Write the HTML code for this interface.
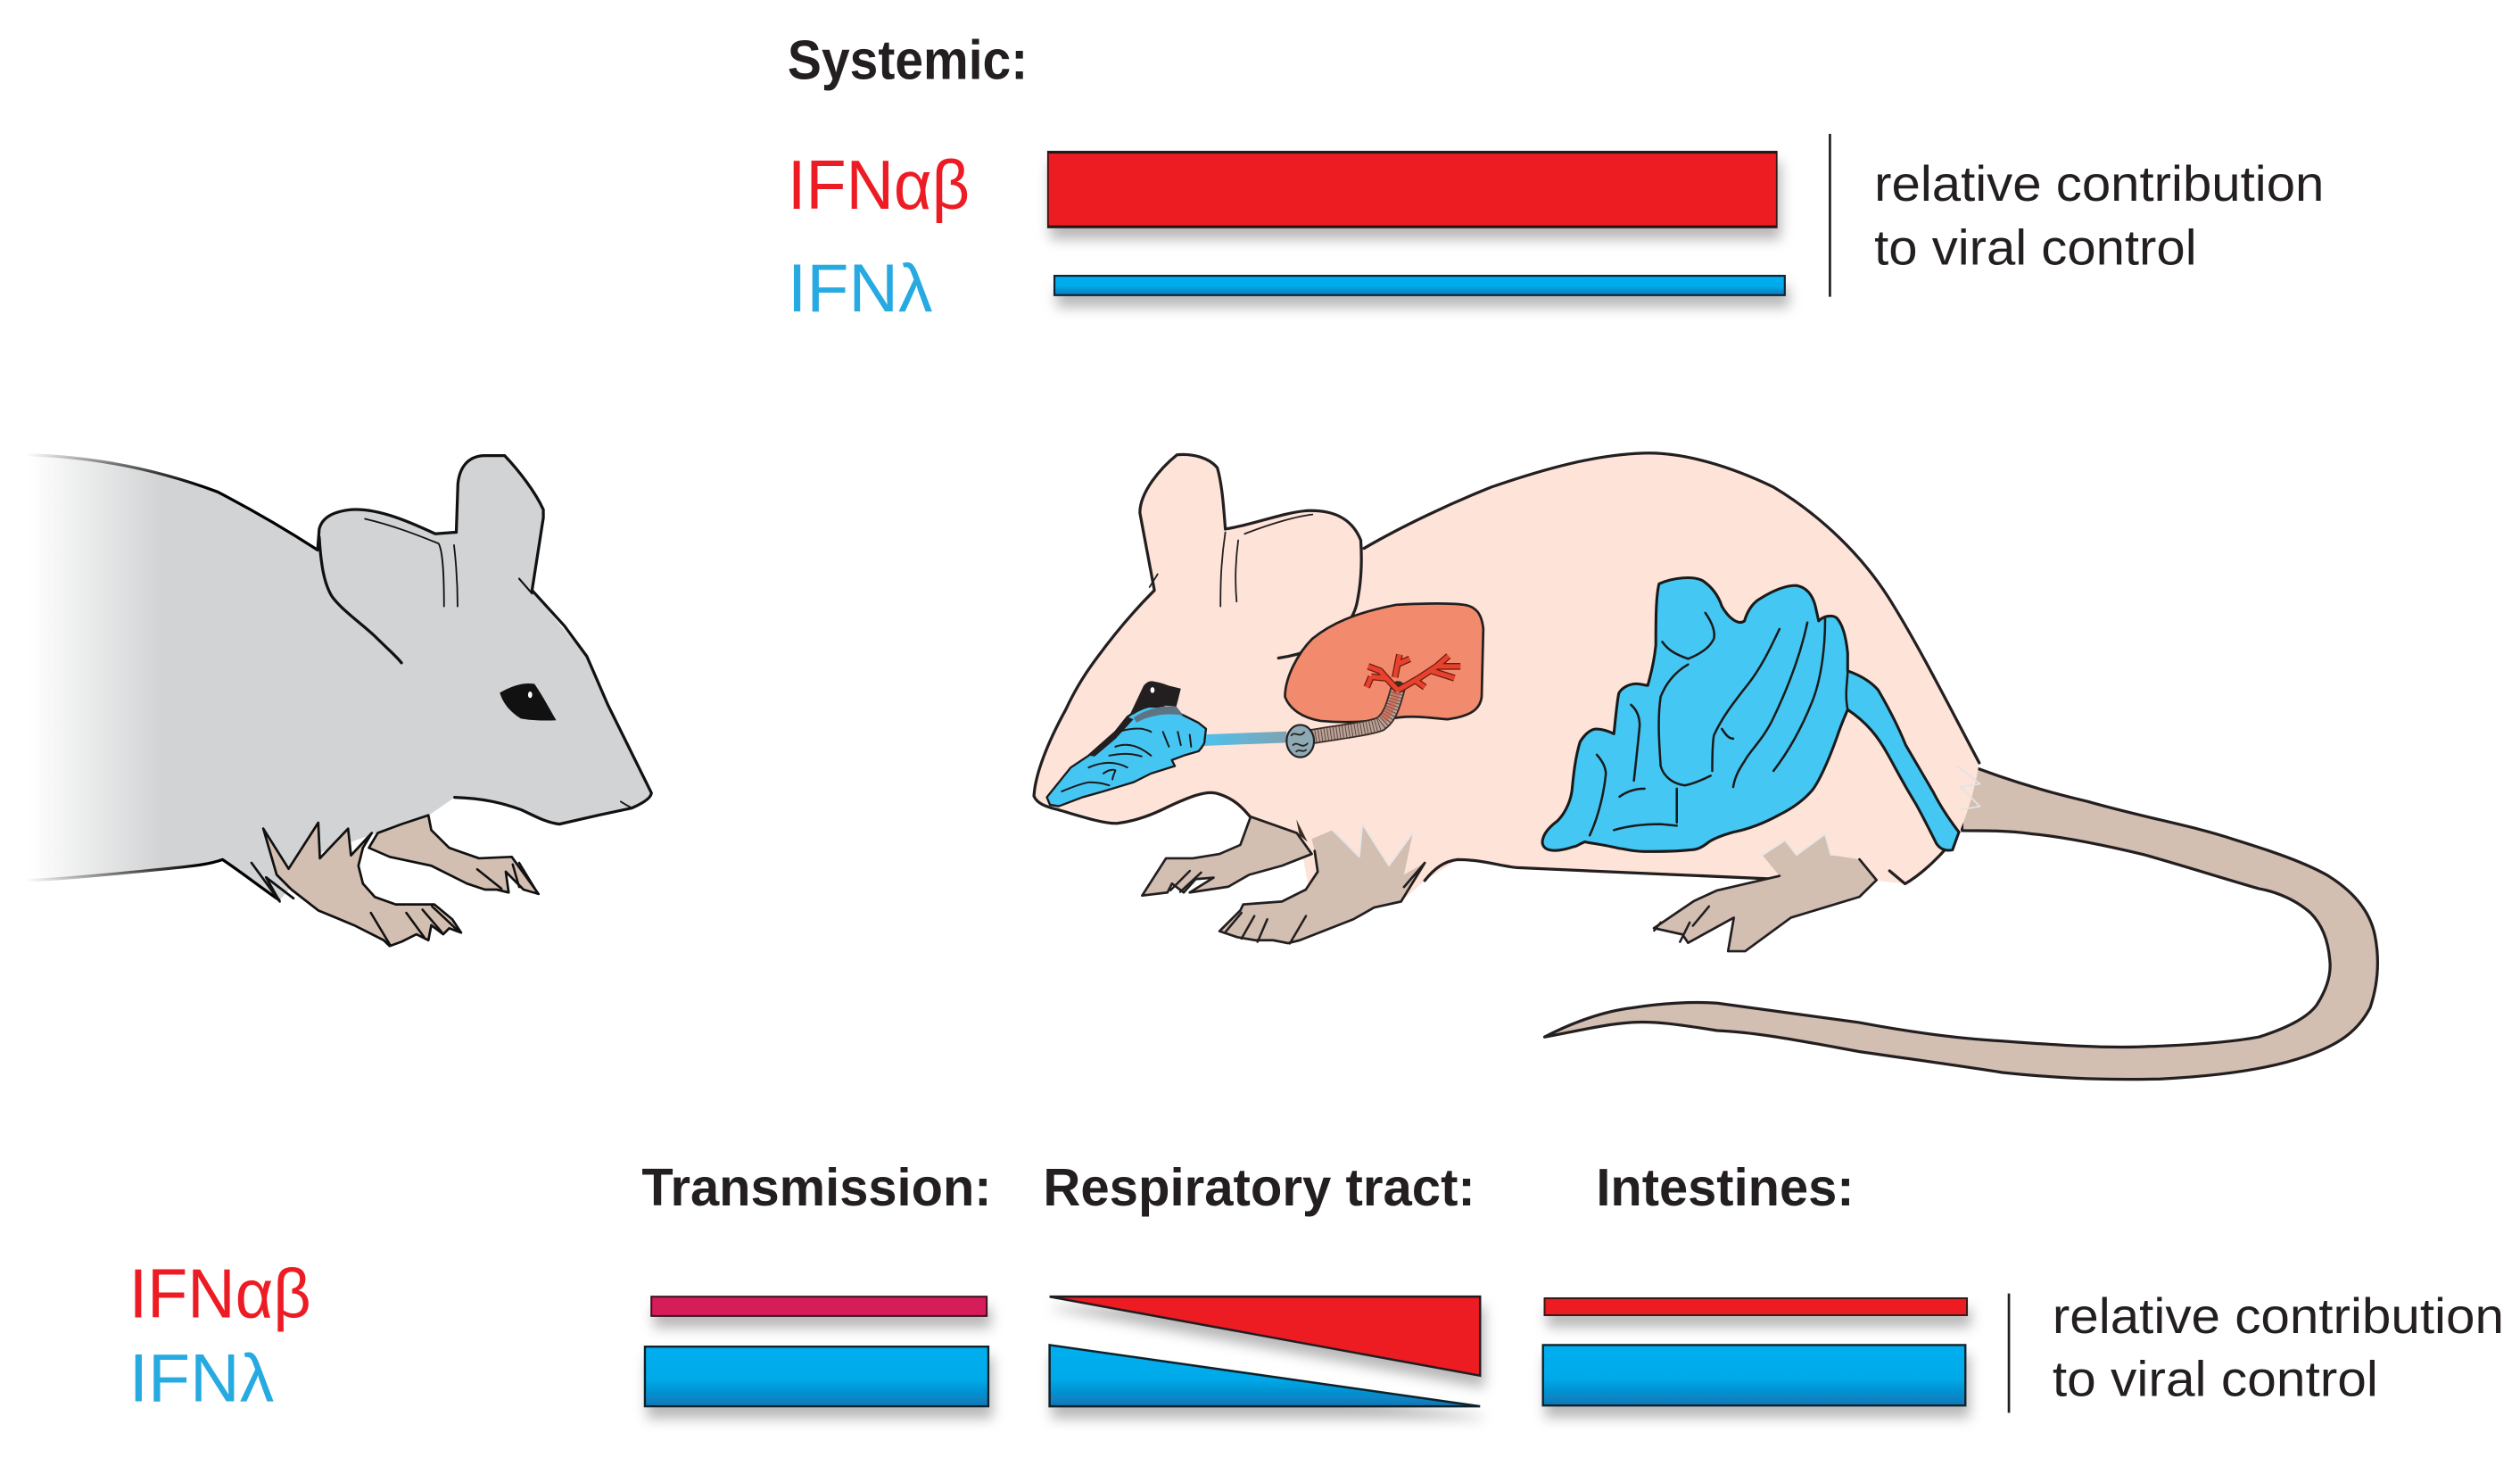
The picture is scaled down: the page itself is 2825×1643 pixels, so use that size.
<!DOCTYPE html>
<html><head><meta charset="utf-8"><style>
html,body{margin:0;padding:0;background:#fff;}
svg{display:block;}
text{font-family:"Liberation Sans",Arial,sans-serif;}
</style></head><body>
<svg width="2825" height="1643" viewBox="0 0 1563 909" xmlns="http://www.w3.org/2000/svg">
<defs>
 <filter id="sh" x="-5%" y="-100%" width="115%" height="420%">
  <feGaussianBlur in="SourceAlpha" stdDeviation="4"/>
  <feOffset dx="2" dy="7" result="b"/>
  <feFlood flood-color="#000" flood-opacity="0.28"/>
  <feComposite in2="b" operator="in"/>
  <feMerge><feMergeNode/><feMergeNode in="SourceGraphic"/></feMerge>
 </filter>
 <linearGradient id="bl" x1="0" y1="0" x2="0" y2="1">
  <stop offset="0" stop-color="#00aeef"/><stop offset="0.55" stop-color="#00aae9"/><stop offset="1" stop-color="#0b76b6"/>
 </linearGradient>
 <linearGradient id="gfill" gradientUnits="userSpaceOnUse" x1="18" y1="0" x2="100" y2="0">
  <stop offset="0" stop-color="#d1d3d4" stop-opacity="0"/><stop offset="1" stop-color="#d1d3d4"/>
 </linearGradient>
 <linearGradient id="gstroke" gradientUnits="userSpaceOnUse" x1="16" y1="0" x2="125" y2="0">
  <stop offset="0" stop-color="#000" stop-opacity="0"/><stop offset="1" stop-color="#000"/>
 </linearGradient>
 <linearGradient id="tube" x1="0" y1="0" x2="1" y2="0">
  <stop offset="0" stop-color="#4cc2ee"/><stop offset="1" stop-color="#7fa3b3"/>
 </linearGradient>
</defs>

<!-- ===== TOP ===== -->
<text x="488.5" y="49" font-size="34.5" font-weight="bold" fill="#231f20" textLength="149" lengthAdjust="spacingAndGlyphs">Systemic:</text>
<text x="488.5" y="129.5" font-size="43" fill="#ed1c24" textLength="113" lengthAdjust="spacingAndGlyphs">IFNαβ</text>
<text x="488.5" y="193" font-size="42" fill="#27aae1" textLength="90" lengthAdjust="spacingAndGlyphs">IFNλ</text>

<g filter="url(#sh)">
 <rect x="650" y="94" width="452" height="47" fill="#ed1c24" stroke="#3b1416" stroke-width="1"/>
</g>
<line x1="650" y1="94.5" x2="1102" y2="94.5" stroke="#2a1315" stroke-width="1.5"/>
<line x1="650" y1="140.5" x2="1102" y2="140.5" stroke="#2a1315" stroke-width="1.5"/>
<g filter="url(#sh)">
 <rect x="654" y="171" width="453" height="12" fill="url(#bl)" stroke="#0d2233" stroke-width="1.2"/>
</g>
<line x1="1135" y1="83" x2="1135" y2="184" stroke="#231f20" stroke-width="1.5"/>
<text x="1162.5" y="124.5" font-size="31" fill="#231f20" textLength="279" lengthAdjust="spacingAndGlyphs">relative contribution</text>
<text x="1162.5" y="164" font-size="31" fill="#231f20" textLength="200" lengthAdjust="spacingAndGlyphs">to viral control</text>

<!-- ===== BOTTOM ===== -->
<text x="398" y="747.5" font-size="33" font-weight="bold" fill="#231f20" textLength="217" lengthAdjust="spacingAndGlyphs">Transmission:</text>
<text x="647" y="747.5" font-size="33" font-weight="bold" fill="#231f20" textLength="268" lengthAdjust="spacingAndGlyphs">Respiratory tract:</text>
<text x="990" y="747.5" font-size="33" font-weight="bold" fill="#231f20" textLength="160" lengthAdjust="spacingAndGlyphs">Intestines:</text>
<text x="80" y="817" font-size="43" fill="#ed1c24" textLength="113" lengthAdjust="spacingAndGlyphs">IFNαβ</text>
<text x="80" y="869" font-size="42" fill="#27aae1" textLength="90" lengthAdjust="spacingAndGlyphs">IFNλ</text>

<g filter="url(#sh)">
 <rect x="404" y="804" width="208" height="12" fill="#d71f5a" stroke="#3a1020" stroke-width="1.1"/>
 <rect x="400" y="835" width="213" height="37" fill="url(#bl)" stroke="#10202c" stroke-width="1.3"/>
 <path d="M651,804 L918,804 L918,853 Z" fill="#ed1c24" stroke="#231f20" stroke-width="1.4" stroke-linejoin="miter"/>
 <path d="M651,834 L651,872 L918,872 Z" fill="url(#bl)" stroke="#10202c" stroke-width="1.4"/>
 <rect x="958" y="805" width="262" height="10.5" fill="#ed1c24" stroke="#3a1416" stroke-width="1.1"/>
 <rect x="957" y="834" width="262" height="37.5" fill="url(#bl)" stroke="#10202c" stroke-width="1.3"/>
</g>
<line x1="1246" y1="802" x2="1246" y2="876" stroke="#231f20" stroke-width="1.5"/>
<text x="1273" y="826.5" font-size="31" fill="#231f20" textLength="280" lengthAdjust="spacingAndGlyphs">relative contribution</text>
<text x="1273" y="865.5" font-size="31" fill="#231f20" textLength="202" lengthAdjust="spacingAndGlyphs">to viral control</text>

<!-- ===== LEFT MOUSE ===== -->
<g stroke-linejoin="round" stroke-linecap="round">
 <path d="M16,282 C60,283 100,292 135,305 C160,318 180,330 197,341 L198,328 C200,320 208,317 218,316 C235,315 255,324 270,331 L283,330 L284,300 C285,290 290,283 300,282.5 L313,282.5 C322,292 332,305 337,316 L337,321 L330,366 C345,385 358,400 364,407 C370,420 375,432 377,437 L404,491.6 C404,494 401,497 392,501 L371,505.5 L347,511 C338,510 330,505 323,502 C315,499 305,496 282,494.4 L266,505.5 L249,511 L234,516.5 L200,528 L173.5,558 C165,552 152,542 138,533 C130,536 120,537 100,539 C70,542 40,545 16,546 Z" fill="url(#gfill)"/>
 <path d="M16,282 C60,283 100,292 135,305 C160,318 180,330 197,341" fill="none" stroke="url(#gstroke)" stroke-width="1.8"/>
 <path d="M16,546 C40,545 70,542 100,539 C120,537 130,536 138,533 C150,541 160,549 173,558" fill="none" stroke="url(#gstroke)" stroke-width="1.8"/>
 <path d="M197,341 L198,328 C200,320 208,317 218,316 C235,315 255,324 270,331 L283,330" fill="none" stroke="#111" stroke-width="1.8"/>
 <path d="M198,333 C199,350 201,362 206,370 C212,378 222,385 232,394 C240,402 246,407 249,411" fill="none" stroke="#111" stroke-width="1.8"/>
 <path d="M283,330 L284,300 C285,290 290,283 300,282.5 L313,282.5 C322,292 332,305 337,316 L337,321 L330,366 L350,388 L364,407 L377,437 L404,491.6 C404,494 401,497 392,501 L371,505.5 L347,511 C338,510 330,505 323,502 C312,498 300,495 282,494.4" fill="none" stroke="#111" stroke-width="1.8"/>
 <path d="M322,358.8 L330,368" fill="none" stroke="#111" stroke-width="1.2"/>
 <path d="M226.4,321.7 C245,326 262,333 272,337 C275,342 275.4,360 275.4,376" fill="none" stroke="#111" stroke-width="1"/>
 <path d="M281.6,338 C283,350 283.8,362 283.8,376" fill="none" stroke="#111" stroke-width="1"/>
 <path d="M385,497 C388,499 390,500 392,501" fill="none" stroke="#111" stroke-width="1"/>
 <!-- eye -->
 <path d="M310,429.5 C318,425 325,423 331.5,424.1 C337,432 341,440 345,446.6 C335,447 328,446.5 323,445.5 C316,441 312,436 310,429.5 Z" fill="#111"/>
 <ellipse cx="328.8" cy="430.8" rx="1.3" ry="2" fill="#fff"/>
 <!-- back foreleg -->
 <path d="M228.8,525.7 L234.3,516.5 L249.1,511 L265.7,505.5 L267.5,514.7 L278.6,525.7 L297.1,532.2 L317.4,531.3 L334,554.3 L324.7,551.6 L313.7,540.5 L315.5,553.4 L308.1,551.6 L300.8,551.6 L289.7,547.9 L267.5,536.8 L241.7,531.3 Z" fill="#d3bfb2" stroke="#111" stroke-width="1.5"/>
 <!-- front foreleg -->
 <path d="M163.3,513.8 L179,538.7 L197.4,510.1 L198.4,532.2 L215.9,513.8 L217.7,530.4 L230.6,516.5 L225.1,525.7 L222.3,536.8 L225.1,547.9 L232.5,556.2 L245.4,560.8 L269.4,560.8 L280.5,570 L286,578.3 L278.6,575.6 L274.9,579.3 L267.5,573.7 L265.7,583 L258.3,579.3 L249.1,583.9 L241.7,586.6 L238,583 L219.6,573.7 L197.4,564.5 L180.8,551.6 L171.6,542.4 Z" fill="#d3bfb2" stroke="#111" stroke-width="1.5"/>
 <path d="M156,535 L173.5,559 L165,544 L182,557" fill="none" stroke="#111" stroke-width="1.5"/>
 <g stroke="#111" stroke-width="1.4" fill="none">
  <path d="M230,566 L242,586"/><path d="M252,566 L263,581"/><path d="M262,564 L274,578"/><path d="M268,562 L284,577"/>
  <path d="M296,539 L311,551"/><path d="M318,536 L322,550"/><path d="M322,535 L333,553"/>
 </g>
</g>

<!-- ===== RIGHT MOUSE ===== -->
<g stroke-linejoin="round" stroke-linecap="round">
 <!-- tail -->
 <path d="M1215,472 C1240,482 1265,490 1295,497 C1330,507 1360,512 1384,520 C1410,528 1430,535 1444,543 C1460,553 1470,565 1473,580 C1476,595 1475,610 1470,625 C1462,640 1450,648 1430,655 C1410,662 1380,667 1340,669 C1300,670 1270,668 1242,665 C1210,660 1180,656 1153,652 C1120,646 1090,640 1065,639 C1040,635 1025,633 1012,634 C995,635 975,640 958,643 C975,634 995,627 1012,625 C1030,622 1050,621 1065,622 C1095,626 1125,630 1153,634 C1185,640 1215,644 1242,645.5 C1275,648 1305,650 1330,649 C1360,648 1385,646 1401,643 C1420,637 1432,630 1437,623 C1444,612 1446,603 1445,595 C1444,583 1440,573 1433,566 C1424,558 1412,553 1401,551 C1380,545 1355,537 1330,530 C1305,524 1280,519 1260,517 C1245,515 1230,515 1217,515 Z" fill="#d3beb2" stroke="#231f20" stroke-width="1.8"/>
 <!-- body -->
 <path d="M641.3,493.6 C642,480 650,460 661,440 C668,425 675,415 681,407 C692,392 705,377 716,366 L707,318 C707,305 720,290 730,282 C740,281 750,284 755,290 C758,300 759,315 760,328 C775,326 795,318 810,316.7 C825,316 838,320 844,335 L846,340 C870,326 900,312 925,302 C960,290 990,282 1019,281 C1045,280 1075,290 1100,302 C1130,320 1155,345 1171,370 C1190,400 1210,440 1227.6,473 C1224,495 1218,510 1213.5,520 C1205,532 1192,542 1181.6,548 L1163.9,546 L1100,545.5 C1050,543 990,540 941,538 C925,536 910,532 904,533 L883.7,546 L869,559 L840,566 L812,552 L806,520 L774.7,506.3 C765,497 758,491 752.5,491.5 C740,494 728,500 718,504 C705,508 695,511 693,510.5 C680,508 665,503 651,500 C645,498 642,496 641.3,493.6 Z" fill="#fde3d8"/>
 <g fill="none" stroke="#231f20" stroke-width="1.8">
  <path d="M641.3,493.6 C642,480 650,460 661,440 C668,425 675,415 681,407 C692,392 705,377 716,366 L707,318 C707,305 720,290 730,282 C740,281 750,284 755,290 C758,300 759,315 760,328"/>
  <path d="M641.3,493.6 C643,498 648,500 656,502 C670,506 685,511 693,510.5 C705,509 715,505 725,500 C738,494 748,490 755,492 C765,495 770,500 775,506"/>
  <path d="M760,328 C775,326 795,318 810,316.7 C825,316 838,320 844,335 C845,350 844,362 842,372 C840,385 830,395 815,402 C808,405 800,407 793,408"/>
  <path d="M846,340 C870,326 900,312 925,302 C960,290 990,282 1019,281 C1045,280 1075,290 1100,302 C1130,320 1155,345 1171,370 C1190,400 1210,440 1227.6,473"/>
  <path d="M1215,516 C1205,530 1192,542 1181.6,548 L1172,540"/>
  <path d="M883.7,546 C890,538 896,534 904,533 C920,533 930,537 941,538 C990,540 1050,543 1100,545"/>
 </g>
 <g fill="none" stroke="#231f20" stroke-width="1">
  <path d="M760,330 C757,350 757,365 757,376"/>
  <path d="M768,335 C766,350 766,362 767,373"/>
  <path d="M772,331 C790,324 805,320 814,319"/>
  <path d="M718,356 L713,364"/>
 </g>
 <!-- lung -->
 <path d="M797,432 C797,420 805,405 814,396 C825,387 840,380 866,375 C885,374 900,374 908,375 C915,376 919,380 920,390 L919,432 C918,440 912,444 898,446 C885,445 875,443 860,446 C845,448 830,448 819,447 C808,445 800,440 797,432 Z" fill="#f28b6d" stroke="#231f20" stroke-width="1.5"/>
 <!-- trachea -->
 <path d="M812,457 C830,454 848,452 856,449 C862,445 864,438 867,427" fill="none" stroke="#3a2a25" stroke-width="9.5"/>
 <path d="M812,457 C830,454 848,452 856,449 C862,445 864,438 867,427" fill="none" stroke="#b9a398" stroke-width="7.5" stroke-linecap="butt"/>
 <path d="M812,457 C830,454 848,452 856,449 C862,445 864,438 867,427" fill="none" stroke="#5a3f36" stroke-width="7.5" stroke-dasharray="0.5 1.4" stroke-linecap="butt"/>
 <path d="M858,446 C862,442 864,436 867,427" fill="none" stroke="#d0553f" stroke-width="5" stroke-opacity="0.55" stroke-linecap="butt"/>
 <!-- bronchi -->
 <g fill="none" stroke-linecap="butt">
  <path d="M867,428 L860,420.5 L850.5,419.6 M860,420.5 L856,416 L848.6,413.2 M850.5,419.6 L847.7,426.1 M865.2,420 L868,405.8 M866.5,412 L874.4,408.5 M867,428 L880,420.5 L891,413.2 L898.4,406.7 M891,413.2 L905.8,413.2 M888,416 L902.1,420.5 M878,422 L883.7,426.1" stroke="#6d1a12" stroke-width="4.2"/>
  <path d="M867,428 L860,420.5 L850.5,419.6 M860,420.5 L856,416 L848.6,413.2 M850.5,419.6 L847.7,426.1 M865.2,420 L868,405.8 M866.5,412 L874.4,408.5 M867,428 L880,420.5 L891,413.2 L898.4,406.7 M891,413.2 L905.8,413.2 M888,416 L902.1,420.5 M878,422 L883.7,426.1" stroke="#e8422d" stroke-width="2.8"/>
 </g>
 <!-- tube to nose -->
 <path d="M746,455.5 L798,453.5 L798,460.5 L746,462.5 Z" fill="url(#tube)"/>
 <!-- larynx -->
 <ellipse cx="806.5" cy="459.5" rx="8.5" ry="10" fill="#8fa9b4" stroke="#222" stroke-width="1.2"/>
 <path d="M801,456 C803,453 806,458 809,454 M802,462 C805,459 807,465 811,461 M804,466 C806,464 808,467 810,465" fill="none" stroke="#222" stroke-width="1"/>
 <!-- nose blob -->
 <path d="M649.3,494.3 L651.2,499 L656.7,499.9 L671.5,494.3 L684.4,490.7 L702.9,485.1 L713.9,479.6 L728.7,475 L726.8,471.3 L734.2,468.5 L743.4,465.8 C746,463 747.5,460 747.1,459.3 L748,451.9 L743.4,448.2 L734.2,443.6 L726.8,439.9 L721.3,438.1 L708.4,438.1 L699.2,444.5 L691.8,453.8 L675.2,468.5 L664.1,475.9 L656.7,485.1 Z" fill="#45c5f2" stroke="#1a1a1a" stroke-width="1.3"/>
 <path d="M675,468.5 L691.8,453.8 L699.2,444.5 L703,446 L692,458 L679,469 Z" fill="#231f20"/>
 <path d="M703,445 C712,439 722,437 729.6,438.1 L734,443.6 C725,442 714,443 705,448 Z" fill="#5d7484"/>
 <path d="M701,442.7 L709.3,425.2 C711,423 713,422 715,422.4 C719,423 722,424 725,425.2 L732.4,427 L729.6,438.1 C722,437 712,437 703,443 Z" fill="#231f20"/>
 <ellipse cx="714.8" cy="427.9" rx="1.3" ry="1.8" fill="#fff"/>
 <g fill="none" stroke="#1a1a1a" stroke-width="1.1">
  <path d="M693.6,453.8 C699,452 704,451.5 708.4,451.9 C711,452.5 713,453 713.9,453.8"/>
  <path d="M721.3,453.8 L725,463"/><path d="M730.5,453.8 L732.4,462"/><path d="M737.9,455.6 L738.8,463"/>
  <path d="M691.8,463 C700,460 707,463 713.9,468.5"/>
  <path d="M675.2,475.9 C684,472 692,472 699.2,475.9"/>
  <path d="M684.4,479.6 C688,477 691,477 691.8,477.7 C691,480 690,482 690,483.3"/>
  <path d="M658.6,490.7 C665,488 670,486 675.2,485.1 C680,485 685,486 688,487"/>
  <path d="M688,468.5 C696,467 702,467 708,469"/>
 </g>
 <!-- intestines -->
 <path d="M1029,362 C1038,358 1050,357 1056,360 C1062,364 1066,370 1068,376 C1072,383 1078,388 1082,385 C1084,378 1088,373 1092,371 C1100,366 1108,363 1114,363 C1120,364 1124,368 1126,376 L1128,385 C1131,382 1136,381 1139,383 C1143,387 1145,395 1146,405 L1146,416 C1152,418 1160,422 1165,428 C1172,440 1178,452 1182,462 L1199,491 C1205,503 1212,512 1215,516 L1211,527 C1206,528 1203,526 1201,523 C1196,513 1192,505 1188,498 C1180,485 1175,475 1171,468 C1165,457 1158,448 1146,440 C1143,447 1141,452 1139,458 C1134,472 1128,485 1124,490 C1118,497 1110,502 1104,505 C1095,510 1085,514 1075,516 C1068,518 1063,520 1060,522 C1055,526 1052,527 1048,527 C1040,528 1030,528 1020,528 C1012,528 1006,526 1004,526 C996,524 988,523 983,522 C980,523 978,525 976,525 C970,527 965,528 961,527 C957,526 956,523 957,520 C958,516 962,512 966,509 C970,505 974,498 975,490 C976,480 977,470 980,460 C983,455 987,452 990,452 C995,452 999,454 1001,455 C1002,445 1003,435 1004,430 C1006,426 1011,424 1015,424 C1018,424 1020,425 1022,425 C1024,418 1026,410 1027,400 C1027,385 1027,370 1029,362 Z" fill="#45c7f4" stroke="#1a1a1a" stroke-width="1.7"/>
 <g fill="none" stroke="#1a1a1a" stroke-width="1.4">
  <path d="M1057.7,380 C1062,386 1064,392 1063,396 C1061,400 1058,404 1047,408.5"/>
  <path d="M1031,398 C1034,402 1037,405 1047,408.5"/>
  <path d="M1047,412 C1040,416 1034,422 1030,432 C1028,445 1029,460 1030,475 C1032,482 1038,486 1045,487 C1050,486 1055,484 1061,481"/>
  <path d="M1103.7,390 C1098,402 1092,415 1082,427 C1075,436 1068,445 1063,456 C1062,462 1062,470 1062,478"/>
  <path d="M1121,386 C1118,400 1112,420 1100,445 C1094,458 1085,466 1082,472 C1078,478 1076,482 1075,488"/>
  <path d="M1132,384 C1132,400 1130,420 1124,435 C1118,450 1110,465 1100,478"/>
  <path d="M1004.5,494 C1010,490 1015,489 1020,489"/>
  <path d="M1001,514.7 C1010,512 1020,511 1030,511 L1040,512"/>
  <path d="M1040,489 C1040,495 1040,503 1040,510"/>
  <path d="M990.4,468 C994,472 996,476 996,480 C995,490 992,505 986,518"/>
  <path d="M1011.6,437 C1015,440 1017,444 1017,450 C1016,460 1015,470 1013.4,484"/>
  <path d="M1068,452 C1070,455 1072,458 1075,458"/>
  <path d="M1146,440 C1144,430 1146,422 1146,416"/>
 </g>
 <!-- back foreleg -->
 <path d="M775.7,506.4 L804.3,516.5 L813.6,529.5 L795.1,536.8 L774.8,542.4 L761.9,549.8 L737.9,553.4 L752.7,544.2 L741.6,545.1 L734.2,553.4 L726.9,547.9 L724.1,553.4 L708.4,555.3 L723.2,532.2 L739.8,532.2 L756.4,529.5 L769.3,523.9 Z" fill="#d3beb2" stroke="#231f20" stroke-width="1.5"/>
 <path d="M804,508 L806,518 L811,522 Z" fill="#3a2a25"/>
 <!-- front foreleg -->
 <path d="M813.6,520.2 L826.5,514.7 L843.1,531.3 L845,511 L861.5,536.8 L876.3,516.5 L870.8,542.4 L883.7,535 L869,559 L852.3,562.7 L839.4,570 L806.2,583 L798.8,584.8 L789.6,583 L778.5,583 L767.4,581.1 L756.4,577.4 L769.3,564.5 L771.1,560.8 L795.1,559 L809.9,551.6 L817.3,540.5 L815.4,527.6 Z" fill="#d3beb2"/>
 <path d="M815.4,527.6 L817.3,540.5 L809.9,551.6 L795.1,559 L771.1,560.8 L769.3,564.5 L756.4,577.4 L767.4,581.1 L778.5,583 L789.6,583 L798.8,584.8 L806.2,583 L839.4,570 L852.3,562.7 L869,559 L883.7,535 L870.8,550" fill="none" stroke="#231f20" stroke-width="1.5"/>
 <path d="M826.5,514.7 L843.1,531.3 L845,511 L861.5,536.8 L876.3,516.5" fill="none" stroke="#e6e6e6" stroke-width="1"/>
 <g stroke="#231f20" stroke-width="1.4" fill="none">
  <path d="M770,566 L760,578"/><path d="M778,568 L770,582"/><path d="M786,570 L780,584"/><path d="M810,568 L800,585"/>
  <path d="M738,540 L726,552"/><path d="M745,541 L732,553"/>
 </g>
 <!-- hind leg -->
 <path d="M1093.1,530.2 L1107.2,521.1 L1114.3,530.2 L1132,517.2 L1135.6,530.2 L1153.3,532.8 L1163.9,545.7 L1153.3,556.1 L1110.8,569 L1082.4,589.8 L1071.8,589.8 L1075.4,569 L1047,584.6 L1043.5,579.4 L1025.8,575.5 L1050.6,558.7 L1064.7,552.2 L1103.7,543.1 Z" fill="#d3beb2"/>
 <path d="M1153.3,532.8 L1163.9,545.7 L1153.3,556.1 L1110.8,569 L1082.4,589.8 L1071.8,589.8 L1075.4,569 L1047,584.6 L1043.5,579.4 L1025.8,575.5 L1050.6,558.7 L1064.7,552.2 L1103.7,543.1" fill="none" stroke="#231f20" stroke-width="1.5"/>
 <path d="M1093.1,530.2 L1107.2,521.1 L1114.3,530.2 L1132,517.2 L1135.6,530.2" fill="none" stroke="#e6e6e6" stroke-width="1"/>
 <g stroke="#231f20" stroke-width="1.4" fill="none">
  <path d="M1030,572 L1026,577"/><path d="M1048,572 L1042,584"/><path d="M1060,562 L1050,574"/>
 </g>
 <!-- tail base fur -->
 <path d="M1214,475 L1228,486 L1216,488 L1228,500 L1216,502" fill="none" stroke="#e3e3e3" stroke-width="1"/>
</g>
</svg>
</body></html>
